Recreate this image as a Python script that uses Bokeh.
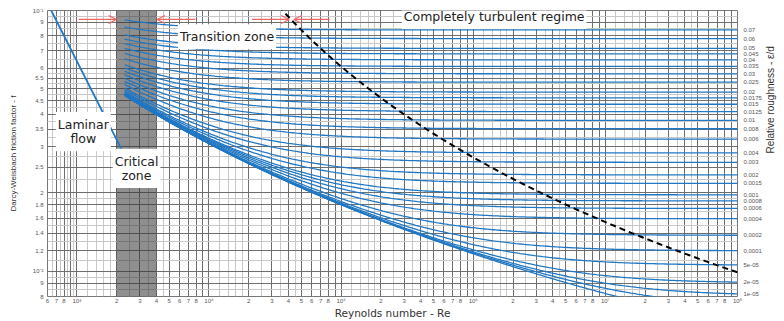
import numpy as np
from bokeh.plotting import figure
from bokeh.models import (FixedTicker, CustomJSTickFormatter, LogAxis, Label,
                          Arrow, OpenHead, BoxAnnotation, Range1d)
from bokeh.embed import file_html
from bokeh.resources import INLINE

# ---------------- data ----------------
roughness = [0.07, 0.06, 0.05, 0.045, 0.04, 0.035, 0.03, 0.025, 0.02, 0.0175,
             0.015, 0.0125, 0.01, 0.008, 0.006, 0.004, 0.003, 0.002, 0.0015,
             0.001, 0.0008, 0.0006, 0.0004, 0.0002, 0.0001, 5e-05, 2e-05,
             1e-05, 5e-06, 1e-06]
roughness_labels = ["0.07", "0.06", "0.05", "0.045", "0.04", "0.035", "0.03",
                    "0.025", "0.02", "0.0175", "0.015", "0.0125", "0.01",
                    "0.008", "0.006", "0.004", "0.003", "0.002", "0.0015",
                    "0.001", "0.0008", "0.0006", "0.0004", "0.0002", "0.0001",
                    "5e-05", "2e-05", "1e-05"]
re_range = [600, 1e8]
f_range = [0.008, 0.1]
re_laminar = [600, 2300]          # laminar flow, f = 64/Re
re_turbulent_start = 2300         # Colebrook curves start
critical_zone = [2000, 4000]
complete_turbulence_constant = 3500   # Re * (e/D) on the dashed boundary

x_ticks = [600, 700, 800, 900,
           1e3, 2e3, 3e3, 4e3, 5e3, 6e3, 7e3, 8e3, 9e3,
           1e4, 2e4, 3e4, 4e4, 5e4, 6e4, 7e4, 8e4, 9e4,
           1e5, 2e5, 3e5, 4e5, 5e5, 6e5, 7e5, 8e5, 9e5,
           1e6, 2e6, 3e6, 4e6, 5e6, 6e6, 7e6, 8e6, 9e6,
           1e7, 2e7, 3e7, 4e7, 5e7, 6e7, 7e7, 8e7, 9e7, 1e8]
x_tick_labels = ["6", "7", "8", "",
                 "10³", "2", "3", "4", "5", "6", "7", "8", "",
                 "10⁴", "2", "3", "4", "5", "6", "7", "8", "",
                 "10⁵", "2", "3", "4", "5", "6", "7", "8", "",
                 "10⁶", "2", "3", "4", "5", "6", "7", "8", "",
                 "10⁷", "2", "3", "4", "5", "6", "7", "8", "", "10⁸"]
x_minor = [m * 10 ** k for k in range(3, 8) for m in (1.2, 1.4, 1.6, 1.8, 2.5, 3.5, 4.5)] + [650, 750, 850, 950]

y_ticks = [0.008, 0.009, 0.01, 0.012, 0.014, 0.016, 0.018, 0.02, 0.025, 0.03,
           0.035, 0.04, 0.045, 0.05, 0.055, 0.06, 0.07, 0.08, 0.09, 0.1]
y_tick_labels = ["8", "9", "10⁻²", "1.2", "1.4", "1.6", "1.8", "2", "2.5", "3",
                 "3.5", "4", "4.5", "5", "5.5", "6", "7", "8", "9", "10⁻¹"]
y_minor = [0.0085, 0.0095, 0.011, 0.013, 0.015, 0.017, 0.019, 0.0225, 0.0275,
           0.0325, 0.0375, 0.0425, 0.0475, 0.0525, 0.0575, 0.065, 0.075, 0.085, 0.095]


def colebrook(re, ed):
    x = np.full_like(re, 8.0)
    for _ in range(80):
        x = -2.0 * np.log10(ed / 3.7 + 2.51 * x / re)
    return 1.0 / x ** 2


re_curve = np.logspace(np.log10(re_turbulent_start), np.log10(re_range[1]), 300)
curves_x = [re_curve for _ in roughness]
curves_y = [colebrook(re_curve, ed) for ed in roughness]
f_end = [float(colebrook(np.array([re_range[1]]), ed)[0]) for ed in roughness[:len(roughness_labels)]]

ed_bound = np.logspace(np.log10(complete_turbulence_constant / re_range[1]), np.log10(0.1), 200)
f_bound = (-2.0 * np.log10(ed_bound / 3.7)) ** -2
re_bound = complete_turbulence_constant / ed_bound

lam_x = np.array(re_laminar, dtype=float)
lam_y = 64.0 / lam_x

# ---------------- figure ----------------
BLUE = "#2077c4"
RED = "#f06464"

p = figure(width=784, height=321, x_axis_type="log", y_axis_type="log",
           x_range=Range1d(*re_range), y_range=Range1d(*f_range),
           output_backend="svg", toolbar_location=None,
           min_border_left=47, min_border_right=44, min_border_top=10,
           min_border_bottom=22, background_fill_color="white",
           border_fill_color="white", outline_line_color="#777777")

fmt_code = """
let best = -1, bd = 1e9;
for (let i = 0; i < tv.length; i++) {
  const d = Math.abs(Math.log(tick) - Math.log(tv[i]));
  if (d < bd) { bd = d; best = i; }
}
return bd < 1e-6 ? tl[best] : "";
"""

xt = FixedTicker(ticks=x_ticks, minor_ticks=x_minor)
yt = FixedTicker(ticks=y_ticks, minor_ticks=y_minor)

no_ticks = dict(axis_line_color=None, major_tick_line_color=None, minor_tick_line_color=None,
                major_tick_out=0, major_tick_in=0, minor_tick_out=0, minor_tick_in=0,
                major_label_text_font="Liberation Sans", major_label_text_font_size="6px",
                major_label_text_color="#555555", axis_label_text_color="#333333",
                axis_label_text_font_style="normal")

xa = p.below[0]
xa.ticker = xt
xa.formatter = CustomJSTickFormatter(args=dict(tv=x_ticks, tl=x_tick_labels), code=fmt_code)
ya = p.left[0]
ya.ticker = yt
ya.formatter = CustomJSTickFormatter(args=dict(tv=y_ticks, tl=y_tick_labels), code=fmt_code)
for ax in (xa, ya):
    for k, v in no_ticks.items():
        setattr(ax, k, v)
xa.major_label_standoff = 1
xa.axis_label = "Reynolds number - Re"
xa.axis_label_text_font = "DejaVu Sans"
xa.axis_label_text_font_size = "10.5px"
xa.axis_label_standoff = 0
ya.major_label_standoff = 4
ya.axis_label = "Darcy-Weisbach friction factor - f"
ya.axis_label_text_font = "Liberation Sans"
ya.axis_label_text_font_size = "8px"
ya.axis_label_standoff = 12

for g, t in ((p.xgrid, xt), (p.ygrid, yt)):
    g.ticker = t
    g.grid_line_color = "#6e6e6e"
    g.grid_line_alpha = 1.0
    g.minor_grid_line_color = "#c8c8c8"
    g.minor_grid_line_alpha = 1.0

ra = LogAxis(ticker=FixedTicker(ticks=f_end),
             formatter=CustomJSTickFormatter(args=dict(tv=f_end, tl=roughness_labels), code=fmt_code),
             major_label_standoff=6,
             axis_label="Relative roughness - ε/d", axis_label_text_font="Liberation Sans",
             axis_label_text_font_size="10px", axis_label_standoff=6, **no_ticks)
if "axis_label_orientation" in LogAxis.properties():
    ra.axis_label_orientation = float(np.pi / 2)
p.add_layout(ra, "right")

# critical zone band
p.add_layout(BoxAnnotation(left=critical_zone[0], right=critical_zone[1],
                           fill_color="#333333", fill_alpha=0.55, line_color=None,
                           level="underlay"))

# curves
p.multi_line(curves_x, curves_y, line_color=BLUE, line_width=1.3)
p.line(lam_x, lam_y, line_color=BLUE, line_width=1.8)
p.line(re_bound, f_bound, line_color="black", line_width=2, line_dash="6 4")

# arrows
for xs, xe in ((1035, 2000), (7900, 4050), (21200, 40500), (82000, 44000)):
    p.add_layout(Arrow(end=OpenHead(size=8, line_color=RED, line_width=1.2),
                       x_start=xs, y_start=0.0924, x_end=xe, y_end=0.0924,
                       line_color=RED, line_width=1.2))

lab = dict(text_font="DejaVu Sans", text_color="#222222", background_fill_color="white",
           text_align="center", text_baseline="middle", padding=(2, 5))
p.add_layout(Label(x=1.44e6, y=0.0949, text="Completely turbulent regime", text_font_size="12.5px", **lab))
p.add_layout(Label(x=13700, y=0.0793, text="Transition zone", text_font_size="12.5px", **lab))
p.add_layout(Label(x=1120, y=0.0343, text="Laminar\nflow", text_font_size="12.5px",
                   text_line_height=0.95, **lab))
p.add_layout(Label(x=2833, y=0.0248, text="Critical\nzone", text_font_size="12.5px",
                   text_line_height=0.95, **lab))

open("out.html", "w").write(file_html(p, INLINE))
